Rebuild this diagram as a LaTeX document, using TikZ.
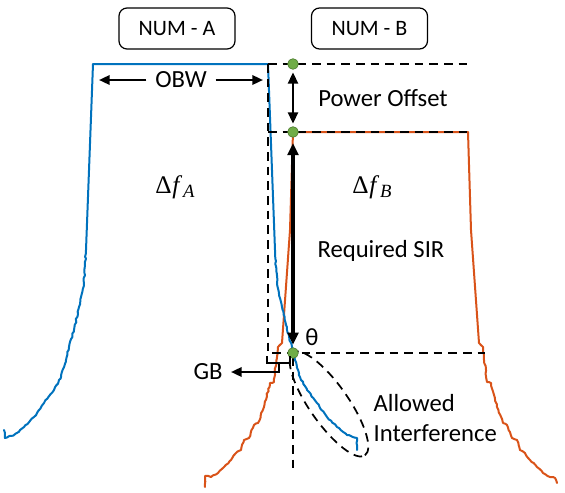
\documentclass[tikz,border=0pt]{standalone}
\usepackage{fontspec}
\setmainfont{Carlito}
\newfontfamily\symserif{Liberation Serif}
\usetikzlibrary{arrows.meta,decorations.pathmorphing}
\definecolor{mblue}{HTML}{0072BD}
\definecolor{morange}{HTML}{D95319}
\definecolor{dotgreen}{HTML}{70AD47}
\definecolor{dotedge}{HTML}{507E32}
\newcommand{\dfsym}[1]{{\symserif Δ\kern0.5pt\textit{f}\kern0.6pt\raisebox{-3.2pt}{\fontsize{14}{14}\selectfont\textit{#1}}}}
\begin{document}
\begin{tikzpicture}[x=0.75pt,y=-0.75pt,
  spec/.style={line width=1.5pt, line join=round, line cap=round},
  noisy/.style={decorate, decoration={random steps, segment length=2pt, amplitude=0.45pt}},
  guide/.style={black, line width=1.5pt, dash pattern=on 6.5pt off 4.5pt},
  numbox/.style={draw, rounded corners=6pt, line width=0.9pt, minimum width=87pt, minimum height=30.75pt, font=\fontsize{16.5}{18}\selectfont, inner sep=0pt},
  lbl/.style={font=\fontsize{18.5}{22.5}\selectfont, inner sep=1pt},
  mathlbl/.style={font=\fontsize{19}{21}\selectfont, inner sep=0pt},
  dot/.style={circle, fill=dotgreen, draw=dotedge, line width=0.5pt, minimum size=8pt, inner sep=0pt},
  harrow/.style={line width=1.7pt, -{Triangle[length=8pt,width=7pt]}},
  varrow/.style={line width=1.8pt, {Triangle[length=8.5pt,width=7.5pt]}-{Triangle[length=8.5pt,width=7.5pt]}},
  sirarrow/.style={line width=2.3pt, {Triangle[length=9pt,width=8pt]}-{Triangle[length=9pt,width=8pt]}},
]
\useasboundingbox (0,0) rectangle (565,493);
\pgfmathsetseed{7}

% ---- orange spectrum (NUM-B)
\draw[spec, morange, noisy] (205,487) -- (205,476) -- (211,477) -- (218,473) -- (224,467) -- (231,460) -- (236,453) -- (241,450) -- (244,440) -- (249,438) -- (254,425) -- (258,423) -- (264,407) -- (270,383) -- (274,382) -- (278,347) -- (282,343);
\draw[spec, morange] (282,343) -- (290,230) -- (293,132) -- (468,132) -- (471,230) -- (479,343);
\draw[spec, morange, noisy] (479,343) -- (483,347) -- (487,382) -- (491,383) -- (497,407) -- (503,423) -- (507,425) -- (512,438) -- (517,440) -- (520,450) -- (525,453) -- (530,460) -- (537,467) -- (543,473) -- (550,477) -- (555,478) -- (557,483);

% ---- blue spectrum (NUM-A)
\draw[spec, mblue, noisy] (4,430) -- (5,438) -- (14,435) -- (24,427) -- (34,417) -- (44,403) -- (54,390) -- (61,377) -- (66,360) -- (69,347) -- (74,330) -- (79,307) -- (84,283) -- (86,250);
\draw[spec, mblue] (86,250) -- (93,64) -- (268,64) -- (275,250);
\draw[spec, mblue, noisy] (275,250) -- (277,283) -- (282,307) -- (287,330) -- (292,347) -- (295,360) -- (300,377) -- (307,390) -- (317,403) -- (327,417) -- (337,427) -- (347,435) -- (357,438) -- (357,450);

% ---- reference points
\coordinate (cA) at (268,64);
\coordinate (cB) at (268,132);
\coordinate (cC) at (268,353);
\coordinate (eTop) at (470,64);
\coordinate (eMid) at (470,132);
\coordinate (eLow) at (485,353);
\coordinate (eBot) at (293,470);
\coordinate (ellc) at (329,404);

% ---- dashed guides
\draw[guide] (cA) -- (eTop);
\draw[guide] (cB) -- (eMid);
\draw[guide] (cA) -- (cC) -- (eLow);
\draw[guide] (293,357) -- (eBot);
\draw[black, line width=1.3pt, dash pattern=on 6.5pt off 4.5pt, rotate around={-55:(ellc)}] (ellc) ellipse [x radius=47pt, y radius=14.5pt];

% ---- dots
\node[dot] (d1) at (293,64) {};
\node[dot] (d2) at (293,132) {};
\node[dot] (d3) at (293,353) {};

% ---- boxes
\node[numbox] (numA) at (177,28.5) {NUM - A};
\node[numbox] (numB) at (369.5,28.5) {NUM - B};

% ---- labels
\node[lbl, inner xsep=6.5pt] (obw) at (181,80) {OBW};
\coordinate (obwL) at (99,80);
\coordinate (obwR) at (263,80);
\draw[harrow] (obw.west) -- (obwL);
\draw[harrow] (obw.east) -- (obwR);

\node[lbl] (po) at (383,98) {Power Offset};
\node[lbl] (sir) at (381,251) {Required SIR};
\node[lbl] (theta) at (312,337) {θ};
\node[lbl, align=left, anchor=west] (ai) at (372,418) {Allowed\\Interference};
\node[lbl] (gb) at (208,372) {GB};
\node[mathlbl] (dfa) at (175,187) {\dfsym{A}};
\node[mathlbl] (dfb) at (372,187) {\dfsym{B}};

\draw[varrow, shorten <=2pt, shorten >=2pt] (d1) -- (d2);
\draw[sirarrow, shorten <=4pt, shorten >=2pt] (d2) -- (d3);

% ---- guard band bracket
\coordinate (gbL) at (267,356);
\coordinate (gbR) at (290,356);
\coordinate (gbS) at (279,363);
\coordinate (gbtip) at (231,372);
\draw[line width=1.6pt, line join=miter] (gbL) -- (267,363) -- (290,363) -- (gbR);
\draw[harrow, line join=miter] (gbS) -- (279,372) -- (gbtip);
\end{tikzpicture}
\end{document}
